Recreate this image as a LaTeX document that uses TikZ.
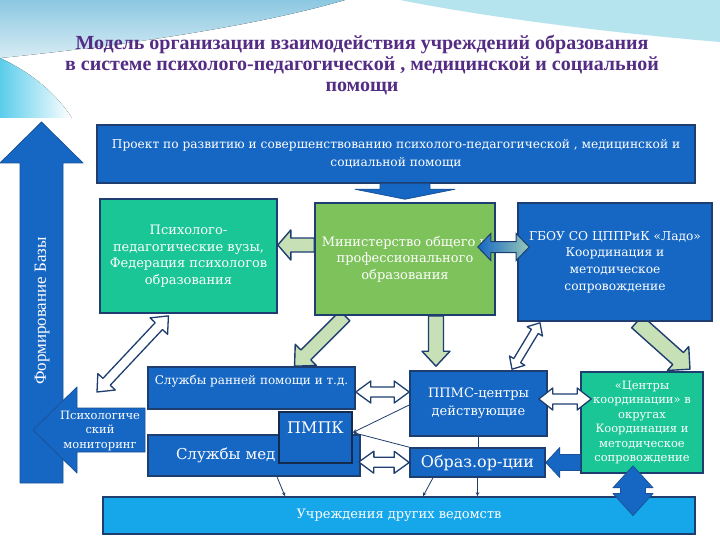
\documentclass[tikz,border=0pt]{standalone}
\usepackage{fontspec}
\setmainfont{Liberation Serif}
\newfontfamily\boxfont{DejaVu Serif}
\usetikzlibrary{calc,arrows.meta}
\pgfdeclarelayer{behind}
\pgfsetlayers{behind,main}

\definecolor{bluefill}{RGB}{22,103,195}
\definecolor{navyline}{RGB}{30,62,112}
\definecolor{tealfill}{RGB}{26,198,150}
\definecolor{greenfill}{RGB}{126,194,92}
\definecolor{palegreen}{RGB}{200,224,182}
\definecolor{cyanfill}{RGB}{22,166,234}
\definecolor{titlepurple}{RGB}{84,44,132}
\definecolor{waveblue}{RGB}{140,200,225}
\definecolor{wavepale}{RGB}{182,228,238}
\definecolor{wavecyan}{RGB}{90,205,235}

\tikzset{
  box/.style={draw=navyline, line width=1.6pt, inner sep=2pt, align=center, text=white,
    font=\boxfont\fontsize{13}{16.5}\selectfont},
  bluebox/.style={box, fill=bluefill},
  bigtext/.style={font=\boxfont\fontsize{16}{19}\selectfont},
  smalltext/.style={font=\boxfont\fontsize{11.5}{14.5}\selectfont},
  greenarrow/.style={draw=navyline, line width=1.4pt, fill=palegreen, line join=round},
  whitearrow/.style={draw=navyline, line width=1.3pt, fill=white, line join=round},
  bluearrow/.style={draw=navyline!50!bluefill, line width=0.8pt, fill=bluefill, line join=round},
  gradarrow/.style={draw=navyline, line width=1pt, left color=bluefill,
    middle color=palegreen!60!white, right color={rgb,255:red,150;green,200;blue,185}},
  link/.style={draw=navyline, line width=0.8pt}
}

% fat arrow: [style]{from}{to}{half shaft}{half head}{head length}
\newcommand{\fatarrow}[6][]{%
  \draw[#1] let \p1=($(#3)-(#2)$), \n1={atan2(\y1,\x1)}, \n2={veclen(\x1,\y1)} in
    [shift={(#2)},rotate=\n1] (0,#4) -- (\n2-#6,#4) -- (\n2-#6,#5) -- (\n2,0)
    -- (\n2-#6,-#5) -- (\n2-#6,-#4) -- (0,-#4) -- cycle;}
\newcommand{\fatdarrow}[6][]{%
  \draw[#1] let \p1=($(#3)-(#2)$), \n1={atan2(\y1,\x1)}, \n2={veclen(\x1,\y1)} in
    [shift={(#2)},rotate=\n1] (0,0) -- (#6,#5) -- (#6,#4) -- (\n2-#6,#4) -- (\n2-#6,#5)
    -- (\n2,0) -- (\n2-#6,-#5) -- (\n2-#6,-#4) -- (#6,-#4) -- (#6,-#5) -- cycle;}

\begin{document}
\begin{tikzpicture}[x=1pt,y=-1pt,>={Stealth[length=4pt,width=3.5pt]}]
\useasboundingbox (0,0) rectangle (720,540);

\begin{pgfonlayer}{behind}
\fill[white] (0,0) rectangle (720,540);
\fill[top color=waveblue, bottom color=waveblue!35!white] (0,0) -- (345,0)
  .. controls (260,25) and (130,45) .. (0,58) -- cycle;
\fill[wavepale] (400,0) -- (720,0) -- (720,42) .. controls (600,32) and (480,16) .. (400,0) -- cycle;
\fill[left color=wavecyan, right color=white] (0,58) .. controls (30,72) and (55,92) .. (72,118)
  -- (0,118) -- cycle;
\end{pgfonlayer}

\node[font=\bfseries\fontsize{20}{21}\selectfont, text=titlepurple, align=center] (T) at (362,65)
  {Модель организации взаимодействия  учреждений образования\\
   в системе  психолого-педагогической , медицинской и социальной\\помощи};

% left column
\draw[bluearrow] (20,483) -- (20,163) -- (0,163) -- (41.5,122) -- (83,163) -- (63,163) -- (63,483) -- cycle;
\node[rotate=90, text=white, font=\fontsize{17}{20}\selectfont] (L) at (42,311) {Формирование Базы};
\draw[bluearrow] (33,430) -- (77,387) -- (77,408) -- (145,408) -- (145,452) -- (77,452) -- (77,473) -- cycle;
\node[smalltext, text=white, align=center] (K) at (100,431) {Психологиче\\ский\\мониторинг};
\coordinate (mon) at (97,392);

% boxes
\node[bluebox, minimum width=598pt, minimum height=58pt, font=\boxfont\fontsize{12.2}{18}\selectfont] (P) at (396,154)
  {Проект по развитию и совершенствованию психолого-педагогической , медицинской и\\социальной  помощи};
\node[box, fill=tealfill, minimum width=177pt, minimum height=114pt] (A) at (188.5,256)
  {Психолого-\\педагогические вузы,\\Федерация психологов\\образования};
\node[box, fill=greenfill, minimum width=180pt, minimum height=112pt] (B) at (405,259)
  {Министерство общего и\\профессионального\\образования};
\node[bluebox, font=\boxfont\fontsize{12.2}{16.7}\selectfont, minimum width=194pt, minimum height=118pt] (C) at (615,262)
  {ГБОУ СО ЦППРиК «Ладо»\\Координация и\\методическое\\сопровождение};
\node[bluebox, font=\boxfont\fontsize{12}{16}\selectfont, minimum width=207pt, minimum height=42pt] (D) at (251.5,388)
  {Службы ранней помощи и т.д.\\\mbox{}};
\node[bluebox, font=\boxfont\fontsize{15}{18}\selectfont, minimum width=212pt, minimum height=41pt, text width=156pt, align=left] (E) at (254,455.5)
  {Службы мед};
\node[bluebox, bigtext, draw=navyline!70!black, minimum width=73pt, minimum height=51pt] (F) at (315.5,437.5)
  {ПМПК\\\mbox{}};
\node[bluebox, font=\boxfont\fontsize{13}{18}\selectfont, minimum width=137pt, minimum height=65pt] (G) at (478.5,403.5)
  {ППМС-центры\\действующие};
\node[bluebox, font=\boxfont\fontsize{16}{19}\selectfont, minimum width=135pt, minimum height=29pt] (H) at (477.5,462.5)
  {Образ.ор-ции};
\node[box, smalltext, fill=tealfill, minimum width=122pt, minimum height=101pt] (I) at (642,422.5)
  {«Центры\\координации» в\\округах\\Координация и\\методическое\\сопровождение};
\node[box, fill=cyanfill, minimum width=592pt, minimum height=37pt] (J) at (399,515.5)
  {Учреждения других ведомств};

% block connectors
\begin{pgfonlayer}{behind}
\fatarrow[greenarrow]{[xshift=-60pt]B.south}{[xshift=43pt]D.north}{7}{15}{16}
\fatarrow[greenarrow]{[xshift=31pt]B.south}{[xshift=-42.5pt,yshift=4pt]G.north}{7.5}{14}{15}
\fatarrow[greenarrow]{[xshift=22pt]C.south}{[xshift=48pt,yshift=2pt]I.north}{8}{16}{16}
\end{pgfonlayer}
\fatarrow[bluearrow]{P.south -| B.north}{[yshift=3pt]B.north}{25}{50}{10}
\fatarrow[greenarrow]{[yshift=14pt]B.west}{[yshift=11pt]A.east}{7}{15}{13}
\fatdarrow[gradarrow]{[xshift=-18pt,yshift=12pt]B.east}{[xshift=12pt,yshift=15pt]C.west}{5.5}{13.5}{13}
\fatdarrow[whitearrow]{mon}{[xshift=-20pt,yshift=-2pt]A.south}{5}{12}{14}
\fatdarrow[whitearrow]{[xshift=33.5pt,yshift=1pt]G.north}{[xshift=-75pt,yshift=-1pt]C.south}{4}{9}{10}
\fatdarrow[whitearrow]{[yshift=-4pt]D.east}{[yshift=11.5pt]G.west}{5}{11}{15}
\fatdarrow[whitearrow]{[xshift=-2pt,yshift=-6.5pt]E.east}{H.west}{5}{11}{15}
\fatdarrow[whitearrow]{[xshift=-9pt,yshift=4.5pt]G.east}{[xshift=11pt,yshift=23.5pt]I.west}{5}{11}{14}
\fatarrow[bluearrow]{[yshift=-40pt]I.west}{H.east}{8}{15}{14}
\coordinate (ij) at ($(I.south |- J.center)+(-9,0)$);
\fatdarrow[bluearrow]{[xshift=-9pt,yshift=8pt]I.south}{ij}{12.5}{20}{22}

% thin links
\draw[link,->] ([yshift=-1.5pt]G.west) -- ([yshift=5pt]F.east);
\draw[link,->] (H.north west) -- ([yshift=5pt]F.east);
\draw[link] (G.south) -- (G.south |- H.north);
\draw[link,->] (H.south) -- (H.south |- J.north);
\draw[link,->] ([xshift=-44.5pt]H.south) -- ([xshift=24pt]J.north);
\draw[link,->] ([xshift=23pt]E.south) -- ([xshift=-114pt]J.north);
\end{tikzpicture}
\end{document}
